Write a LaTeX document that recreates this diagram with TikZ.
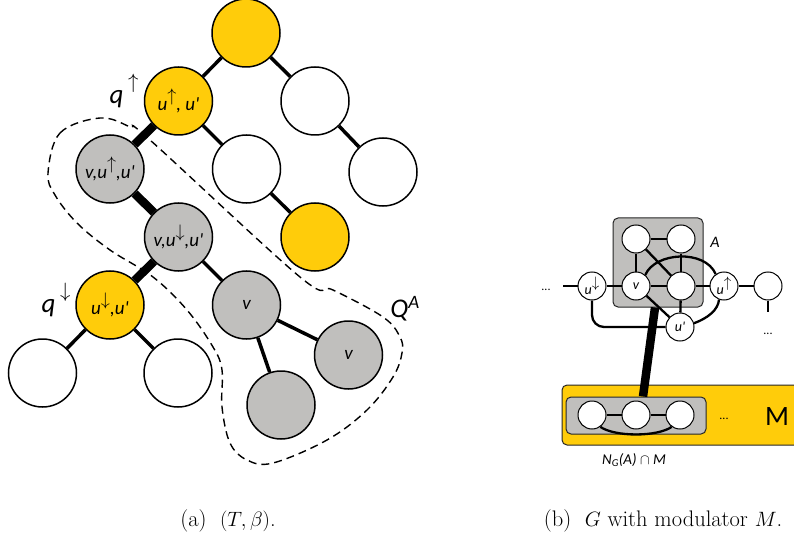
\documentclass[tikz,border=0pt]{standalone}
\usepackage{fontspec}
\setsansfont{Carlito}
\usepackage{amsmath}
\usetikzlibrary{positioning}
\definecolor{treeyellow}{HTML}{FFCC0A}
\definecolor{treegrey}{HTML}{C0BFBD}
\newcommand{\pr}{\textquotesingle}
\newcommand{\arup}{\raisebox{0.5em}{\scalebox{1.05}{$\uparrow$}}}
\newcommand{\ardn}{\raisebox{0.5em}{\scalebox{1.05}{$\downarrow$}}}
\newcommand{\bigarup}{\raisebox{1.1ex}{\fontsize{22}{22}\selectfont$\uparrow$}}
\newcommand{\bigardn}{\raisebox{1.1ex}{\fontsize{22}{22}\selectfont$\downarrow$}}

\begin{document}
\begin{tikzpicture}[x=1pt, y=-1pt,
    tnode/.style={circle, draw=black, line width=1.5pt, minimum size=68pt, inner sep=0pt,
        font=\fontsize{19}{19}\selectfont\sffamily\itshape},
    yel/.style={tnode, fill=treeyellow},
    gry/.style={tnode, fill=treegrey},
    wht/.style={tnode, fill=white},
    treeedge/.style={line width=3.5pt},
    pathedge/.style={line width=8.5pt},
    lbl/.style={font=\fontsize{27}{27}\selectfont\sffamily\itshape},
    gnode/.style={circle, draw=black, line width=1pt, fill=white, minimum size=28pt, inner sep=0pt,
        font=\fontsize{14}{14}\selectfont\sffamily\itshape},
    gedge/.style={line width=2.3pt},
    setbox/.style={draw=black!85, line width=1pt, rounded corners=5pt, inner sep=0pt},
    dotlabel/.style={font=\fontsize{12}{12}\selectfont\sffamily},
    captext/.style={font=\fontsize{22.5}{22.5}\selectfont}]
    \useasboundingbox (0,0) rectangle (794,545);

    % (a) the tree
    \node[yel] (root) at (246,33) {};
    \node[yel] (qup) at (178.5,101) {u\arup, u\pr};
    \node[wht] (wr1) at (315,101) {};
    \node[gry] (g1) at (110,169) {v,u\arup,u\pr};
    \node[wht] (wb) at (246.5,169) {};
    \node[wht] (wr2) at (383,172) {};
    \node[gry] (g2) at (178.5,237) {v,u\ardn,u\pr};
    \node[yel] (yb) at (315,237) {};
    \node[yel] (qdn) at (110,305) {u\ardn,u\pr};
    \node[gry] (gv) at (246.5,305) {v};
    \node[gry] (gv2) at (348.5,355) {v};
    \node[gry] (gb) at (281,405) {};
    \node[wht] (wl) at (42.5,373) {};
    \node[wht] (wm) at (178,373) {};

    \draw[treeedge] (root) -- (qup);
    \draw[treeedge] (root) -- (wr1);
    \draw[treeedge] (wr1) -- (wr2);
    \draw[treeedge] (qup) -- (wb);
    \draw[treeedge] (wb) -- (yb);
    \draw[pathedge] (qup) -- (g1);
    \draw[pathedge] (g1) -- (g2);
    \draw[pathedge] (g2) -- (qdn);
    \draw[treeedge] (g2) -- (gv);
    \draw[treeedge] (qdn) -- (wl);
    \draw[treeedge] (qdn) -- (wm);
    \draw[treeedge] (gv) -- (gv2);
    \draw[treeedge] (gv) -- (gb);

    \node[lbl] (qupl) at (124,91) {q\,\bigarup};
    \node[lbl] (qdnl) at (56,300) {q\,\bigardn};
    \node[lbl] (pil) at (121,222) {$\mathit{\Pi}$};
    \node[lbl] (qal) at (405,309) {Q\textsuperscript{A}};

    % Q^A
    \draw[line width=1.4pt, dash pattern=on 8pt off 5pt]
        plot[smooth cycle, tension=0.6] coordinates {
        (48,173) (60,133) (100,118) (130,127) (150,140) (300,277) (333,290)
        (383,317) (400,337) (402,353) (393,377) (367,410) (327,440) (273,463)
        (247,460) (230,443) (222,407) (222,370) (213,347) (187,310) (153,277)
        (110,250) (77,223) (55,195)};

    % (b) the graph
    \node[setbox, fill=treeyellow, minimum width=240pt, minimum height=60pt] (M) at (682,415) {};
    \node[setbox, fill=treegrey, minimum width=140pt, minimum height=37pt] (N) at (636,415.5) {};
    \node[setbox, fill=treegrey, minimum width=90pt, minimum height=89pt] (A) at (658,262.5) {};

    \node[gnode] (tl) at (636,239) {};
    \node[gnode] (tr) at (681,239) {};
    \node[gnode] (v) at (636,286) {v};
    \node[gnode] (mr) at (681,286) {};
    \node[gnode] (ud) at (592,286) {u\ardn};
    \node[gnode] (uu) at (724,286) {u\arup};
    \node[gnode] (wr) at (768,286) {};
    \node[gnode] (up) at (680,327) {u\pr};
    \node[gnode] (n1) at (592,415) {};
    \node[gnode] (n2) at (636,415) {};
    \node[gnode] (n3) at (680,415) {};

    \node[dotlabel] (ldots) at (546,290) {...};
    \node[dotlabel] (rdots) at (768,334) {...};
    \node[dotlabel] (mdots) at (724,419) {...};
    \coordinate (lstub) at (563,286);
    \coordinate (dstub) at (768,312);

    \draw[gedge] (lstub) -- (ud);
    \draw[gedge] (ud) -- (v);
    \draw[gedge] (v) -- (mr);
    \draw[gedge] (mr) -- (uu);
    \draw[gedge] (uu) -- (wr);
    \draw[gedge] (wr) -- (dstub);
    \draw[gedge] (tl) -- (tr);
    \draw[gedge] (tl) -- (v);
    \draw[gedge] (tr) -- (mr);
    \draw[gedge] (tl) -- (mr);
    \draw[gedge] (v) -- (up);
    \draw[gedge] (mr) -- (up);
    \draw[gedge] (v.50) .. controls (655,252) and (705,249) .. (uu.125);
    \draw[gedge, rounded corners=12pt] (ud.south) |- (up.west);
    \draw[gedge] (up.15) .. controls (708,318) and (718,310) .. (uu.-110);
    \draw[gedge] (n1) -- (n2);
    \draw[gedge] (n2) -- (n3);
    \draw[gedge] (n1.-55) .. controls (615,437) and (657,437) .. (n3.-125);
    \draw[pathedge] ([xshift=-3pt]A.south) -- ([xshift=7pt]N.north);

    \node[font=\fontsize{16}{16}\selectfont\sffamily\itshape] (alab) at (715,242) {A};
    \node[font=\fontsize{28}{28}\selectfont\sffamily] (mlab) at (777,417) {M};
    \node[font=\fontsize{15}{15}\selectfont\sffamily\itshape] (nlab) at (634,460)
        {N\textsubscript{G}(A) $\cap$ M};

    % captions
    \node[captext] (capa) at (228,521) {(a)\hspace{0.6em}$(T,\beta)$.};
    \node[captext] (capb) at (663,521) {(b)\hspace{0.6em}$G$ with modulator $M$.};
\end{tikzpicture}
\end{document}
